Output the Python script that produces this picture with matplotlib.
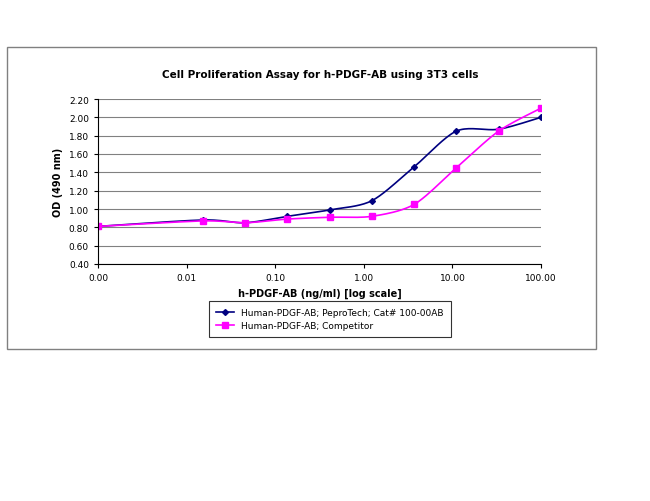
import numpy as np
import matplotlib
matplotlib.use("Agg")
import matplotlib.pyplot as plt
from matplotlib.patches import Rectangle
from matplotlib.lines import Line2D

conc = [0.001, 0.0152, 0.0457, 0.137, 0.412, 1.23, 3.7, 11.1, 33.3, 100.0]
peprotech = [0.81, 0.88, 0.85, 0.92, 0.99, 1.09, 1.46, 1.85, 1.87, 2.00]
competitor = [0.81, 0.87, 0.85, 0.89, 0.91, 0.92, 1.05, 1.45, 1.85, 2.10]
labels = ["Human-PDGF-AB; PeproTech; Cat# 100-00AB", "Human-PDGF-AB; Competitor"]

def smooth(x, y, n=20):
    lx = np.log10(x); y = np.asarray(y, float)
    P = np.column_stack([lx, y])
    P = np.vstack([P[0], P, P[-1]])
    out = []
    for i in range(1, len(P) - 2):
        p0, p1, p2, p3 = P[i-1], P[i], P[i+1], P[i+2]
        for t in np.linspace(0, 1, n, endpoint=False):
            m1 = (p2 - p0) / 2 * 0.85; m2 = (p3 - p1) / 2 * 0.85
            h00 = 2*t**3 - 3*t**2 + 1; h10 = t**3 - 2*t**2 + t
            h01 = -2*t**3 + 3*t**2; h11 = t**3 - t**2
            out.append(h00*p1 + h10*m1 + h01*p2 + h11*m2)
    out.append(P[-2])
    out = np.array(out)
    return 10**out[:, 0], out[:, 1]

fig = plt.figure(figsize=(6.5, 5.02), dpi=100)
fig.patches.append(Rectangle((7/650, 1-350/502), 589/650, 302/502, transform=fig.transFigure,
                             fill=False, edgecolor='#808080', lw=1))
ax = fig.add_axes([98/650, 1-265/502, 443/650, 165/502])
styles = [(peprotech, '#000080', 'D', 3.0), (competitor, '#FF00FF', 's', 4.0)]
for ys, c, m, ms in styles:
    sx, sy = smooth(conc, ys)
    ax.plot(sx, sy, color=c, lw=1.2)
for ys, c, m, ms in styles:
    ax.plot(conc, ys, linestyle='None', marker=m, color=c, ms=ms)
ax.set_xscale('log')
ax.set_xlim(0.001, 100)
ax.set_ylim(0.4, 2.2)
ax.set_xticks([0.001, 0.01, 0.1, 1, 10, 100])
ax.set_xticklabels(["0.00", "0.01", "0.10", "1.00", "10.00", "100.00"])
ax.xaxis.set_minor_locator(matplotlib.ticker.NullLocator())
yt = np.arange(0.4, 2.21, 0.2)
ax.set_yticks(yt)
ax.set_yticklabels([f"{v:.2f}" for v in yt])
ax.tick_params(labelsize=6.5, length=3)
ax.grid(axis='y', color='#808080', lw=0.8)
ax.set_axisbelow(True)
for s in ['top', 'right']:
    ax.spines[s].set_visible(False)
ax.set_xlabel("h-PDGF-AB (ng/ml) [log scale]", fontsize=7, fontweight='bold')
ax.set_ylabel("OD (490 nm)", fontsize=7, fontweight='bold')
fig.text(320/650, 1-75/502, "Cell Proliferation Assay for h-PDGF-AB using 3T3 cells",
         ha='center', va='center', fontsize=7.5, fontweight='bold')
handles = [Line2D([], [], color='#000080', marker='D', ms=3.0, lw=1.2),
           Line2D([], [], color='#FF00FF', marker='s', ms=4.0, lw=1.2)]
leg = fig.legend(handles, labels, loc='center', bbox_to_anchor=(330/650, 1-320/502),
                 fontsize=6.5, frameon=True, fancybox=False, edgecolor='black', borderpad=0.8)
leg.get_frame().set_linewidth(0.8)
fig.savefig("out.png", dpi=100)
